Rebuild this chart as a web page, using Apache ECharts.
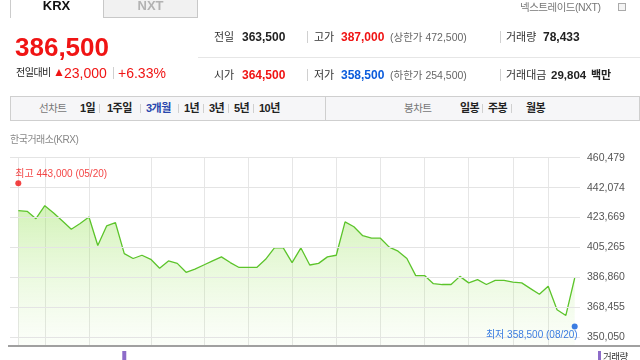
<!DOCTYPE html>
<html><head><meta charset="utf-8">
<script src="https://cdn.jsdelivr.net/npm/echarts@6/dist/echarts.min.js"></script>
<style>
body{margin:0;width:640px;height:360px;overflow:hidden;background:#fff;position:relative;font-family:"Liberation Sans",Arial,"Noto Sans CJK KR",sans-serif;}
#chart{position:absolute;left:0;top:0;width:640px;height:360px;}
.t{position:absolute;white-space:nowrap;line-height:16px;height:16px;font-size:11px;color:#333;z-index:2;}
.b{font-weight:bold;}
.r{color:#f01414;}
.bl{color:#0b5cdc;}
.g{color:#666;}
.k{letter-spacing:-0.5px;}
.vs{position:absolute;width:1px;background:#d0d0d0;z-index:2;}
.box{position:absolute;box-sizing:border-box;z-index:1;}
.n{font-size:11px;font-weight:bold;color:#222;letter-spacing:-0.5px;}
.ng{font-size:10.5px;color:#777;letter-spacing:-0.5px;}
</style></head>
<body>
<div id="chart"></div>
<!-- tabs -->
<div class="box" style="left:10px;top:0;width:1px;height:18px;background:#ccc"></div>
<div class="box" style="left:103px;top:-1px;width:95px;height:19px;border:1px solid #c8c8c8;background:#f1f1f1"></div>
<div class="t b" style="left:10px;width:93px;text-align:center;top:-2px;font-size:13px;color:#111">KRX</div>
<div class="t b" style="left:103px;width:95px;text-align:center;top:-2px;font-size:13px;color:#b3b3b3">NXT</div>
<div class="t g k" style="left:520px;top:-1px;font-size:10.5px;color:#777">넥스트레이드(NXT)</div>
<div class="box" style="left:618px;top:3px;width:8px;height:8px;border:1px solid #aaa;background:#f4f4f4"></div>
<!-- price -->
<div class="t b r" style="left:15px;top:32px;height:30px;line-height:30px;font-size:26px">386,500</div>
<div class="t k" style="left:16px;top:65px;font-size:10px;color:#222">전일대비</div>
<div class="t r" style="left:53px;top:64px;font-size:12px">▲</div>
<div class="t r" style="left:64px;top:65px;font-size:14px">23,000</div>
<div class="vs" style="left:113px;top:67px;height:12px"></div>
<div class="t r" style="left:118px;top:65px;font-size:14px">+6.33%</div>
<!-- info rows -->
<div class="box" style="left:198px;top:57px;width:442px;height:1px;background:#e6e6e6"></div>
<div class="t" style="left:214px;top:29px">전일</div>
<div class="t b" style="left:242px;top:29px;font-size:12px;color:#222">363,500</div>
<div class="vs" style="left:307px;top:31px;height:12px"></div>
<div class="t" style="left:314px;top:29px">고가</div>
<div class="t b r" style="left:341px;top:29px;font-size:12px">387,000</div>
<div class="t g" style="left:390px;top:29px;font-size:10.5px">(상한가 472,500)</div>
<div class="vs" style="left:500px;top:31px;height:12px"></div>
<div class="t" style="left:506px;top:29px">거래량</div>
<div class="t b" style="left:543px;top:29px;font-size:12px;color:#222">78,433</div>

<div class="t" style="left:214px;top:67px">시가</div>
<div class="t b r" style="left:242px;top:67px;font-size:12px">364,500</div>
<div class="vs" style="left:307px;top:69px;height:12px"></div>
<div class="t" style="left:314px;top:67px">저가</div>
<div class="t b bl" style="left:341px;top:67px;font-size:12px">358,500</div>
<div class="t g" style="left:390px;top:67px;font-size:10.5px">(하한가 254,500)</div>
<div class="vs" style="left:500px;top:69px;height:12px"></div>
<div class="t" style="left:506px;top:67px">거래대금</div>
<div class="t b" style="left:551px;top:67px;font-size:11.5px;color:#222">29,804</div>
<div class="t b" style="left:591px;top:67px;font-size:11px;color:#222">백만</div>
<!-- nav -->
<div class="box" style="left:10px;top:96px;width:630px;height:25px;border:1px solid #cfcfcf;background:#f6f6f8"></div>
<div class="box" style="left:325px;top:96px;width:1px;height:25px;background:#cfcfcf"></div>
<div class="t ng" style="left:39px;top:100px">선차트</div>
<div class="t n" style="left:80px;top:100px">1일</div>
<div class="vs" style="left:99px;top:104px;height:9px"></div>
<div class="t n" style="left:107px;top:100px">1주일</div>
<div class="vs" style="left:140px;top:104px;height:9px"></div>
<div class="t n" style="left:146px;top:100px;color:#2846ad">3개월</div>
<div class="vs" style="left:178px;top:104px;height:9px"></div>
<div class="t n" style="left:184px;top:100px">1년</div>
<div class="vs" style="left:203px;top:104px;height:9px"></div>
<div class="t n" style="left:209px;top:100px">3년</div>
<div class="vs" style="left:228px;top:104px;height:9px"></div>
<div class="t n" style="left:234px;top:100px">5년</div>
<div class="vs" style="left:253px;top:104px;height:9px"></div>
<div class="t n" style="left:259px;top:100px">10년</div>
<div class="t ng" style="left:404px;top:100px">봉차트</div>
<div class="t n" style="left:460px;top:100px">일봉</div>
<div class="vs" style="left:482px;top:104px;height:9px"></div>
<div class="t n" style="left:488px;top:100px">주봉</div>
<div class="vs" style="left:511px;top:104px;height:9px"></div>
<div class="t n" style="left:526px;top:100px">월봉</div>
<div class="t k" style="left:10px;top:132px;font-size:10px;color:#888">한국거래소(KRX)</div>
<!-- volume legend -->
<div class="box" style="left:598px;top:351px;width:3px;height:9px;background:#8d6cc9"></div>
<div class="t k" style="left:603px;top:349px;font-size:9.5px;color:#333">거래량</div>
<script>
// ---- data ----
const dates = ['05/20','05/21','05/22','05/23','05/26','05/27','05/28','05/29','05/30',
  '06/02','06/04','06/05','06/09','06/10','06/11','06/12','06/13',
  '06/16','06/17','06/18','06/19','06/20','06/23','06/24','06/25','06/26','06/27','06/30',
  '07/01','07/02','07/03','07/04','07/07','07/08','07/09','07/10','07/11',
  '07/14','07/15','07/16','07/17','07/18','07/21','07/22','07/23','07/24','07/25',
  '07/28','07/29','07/30','07/31','08/01','08/04','08/05','08/06','08/07','08/08',
  '08/11','08/12','08/13','08/14','08/18','08/19','08/20'];
const closes = [427900,427500,423000,431000,426500,421500,416500,420000,424000,
  406500,418500,420500,401500,398500,400500,398000,392500,
  397000,395500,390000,392000,394500,397000,399500,396000,393000,393000,393000,
  398000,405000,405000,396000,405000,394500,395500,399500,400500,
  421000,418000,412500,411000,411000,405500,403000,398500,388000,388000,
  383000,382500,382500,387500,383500,385500,382500,385000,385000,384000,
  383500,380000,376500,381500,367000,363500,386500];
const yTicks = [350050,368455,386860,405265,423669,442074,460479];
const gridDays = ['05/20','05/23','05/30','06/12','06/20','06/27','07/04','07/11','07/18','07/25','08/01','08/08','08/14'];
const hiDate = '05/20', hiVal = 443000;
const loDate = '08/20', loVal = 358500;
const volume = dates.map(()=>null); volume[12] = 150000; // only visible volume bar
// ---- layout ----
const yMin = 344700, yMax = 460479;
const fmt = v => Math.round(v).toLocaleString('en-US');
const chart = echarts.init(document.getElementById('chart'));
const gridIdx = gridDays.map(d => dates.indexOf(d));
const hiIdx = dates.indexOf(hiDate), loIdx = dates.indexOf(loDate);
const FF = '"Liberation Sans", Arial, "Noto Sans CJK KR", sans-serif';
chart.setOption({
  animation:false,
  grid:[
    {left:10, right:60, top:157.7, height:188.3, outerBoundsMode:'none'},
    {left:18.3, right:65.3, top:157.7, height:188.3, outerBoundsMode:'none'},
    {left:18.3, right:65.3, top:351, height:9, outerBoundsMode:'none'}
  ],
  xAxis:[
    {gridIndex:0, type:'value', min:-0.94, max:63.6, show:false},
    {gridIndex:1, type:'category', data:dates, boundaryGap:false,
     axisLine:{show:false}, axisTick:{show:false}, axisLabel:{show:false},
     splitLine:{show:true, interval:(i)=>gridIdx.includes(i), lineStyle:{color:'#e6e6e6', width:1}}},
    {gridIndex:2, type:'category', data:dates, boundaryGap:false, show:false}
  ],
  yAxis:[
    {gridIndex:0, type:'value', min:yMin, max:yMax, show:false},
    {gridIndex:1, type:'value', min:yMin, max:yMax, show:false},
    {gridIndex:2, type:'value', min:0, max:150000, show:false}
  ],
  series:[
    {type:'line', xAxisIndex:0, yAxisIndex:0, data:[], z:1, silent:true,
     markLine:{silent:true, symbol:['none','none'], animation:false,
       lineStyle:{color:'#e4e4e4', width:1, type:'solid'},
       emphasis:{disabled:true},
       label:{show:true, position:'end', distance:7, color:'#555', fontSize:10.5, fontFamily:FF,
         formatter:p=>fmt(p.value)},
       data:yTicks.map(v=>({yAxis:v}))}},
    {type:'line', xAxisIndex:1, yAxisIndex:1, data:closes, z:2, symbol:'none', silent:true,
     lineStyle:{color:'#5cc42b', width:1.3},
     areaStyle:{color:new echarts.graphic.LinearGradient(0,0,0,1,[
        {offset:0, color:'rgba(140,222,70,0.55)'},
        {offset:1, color:'rgba(190,238,150,0.08)'}])}},
    {type:'scatter', xAxisIndex:1, yAxisIndex:1, z:5, symbolSize:6, silent:true,
     data:[
      {value:[hiIdx, hiVal], symbolOffset:[0,-3], itemStyle:{color:'#f01414'},
       label:{show:true, position:'top', distance:1, align:'left', offset:[-3,0],
         color:'#f01414', fontSize:10, fontFamily:FF,
         formatter:'최고 '+fmt(hiVal)+' ('+hiDate+')'}},
      {value:[loIdx, loVal], symbolOffset:[0,3], itemStyle:{color:'#0b5cdc'},
       label:{show:true, position:'bottom', distance:1, align:'right', offset:[3,0],
         color:'#0b5cdc', fontSize:10, fontFamily:FF,
         formatter:'최저 '+fmt(loVal)+' ('+loDate+')'}}
     ]},
    {type:'bar', xAxisIndex:2, yAxisIndex:2, data:volume, barWidth:4, silent:true,
     itemStyle:{color:'#8d6cc9'}}
  ],
  graphic:[{type:'line', shape:{x1:8,y1:346,x2:640,y2:346}, style:{stroke:'#a0a0a0', lineWidth:2}, z:10}]
});
</script>
</body></html>
